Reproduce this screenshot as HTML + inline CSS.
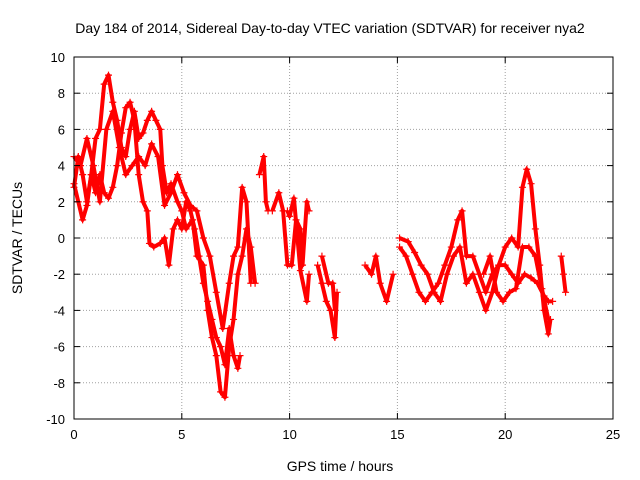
<!DOCTYPE html>
<html><head><meta charset="utf-8"><style>
body{margin:0;background:#fff}
svg{display:block;font-family:"Liberation Sans",sans-serif}
</style></head><body>
<svg id="c" width="640" height="480">
<text x="330" y="33" text-anchor="middle" font-size="14">Day 184 of 2014, Sidereal Day-to-day VTEC variation (SDTVAR) for receiver nya2</text>
<text x="340" y="471" text-anchor="middle" font-size="14">GPS time / hours</text>
<text transform="translate(22,238) rotate(-90)" text-anchor="middle" font-size="14">SDTVAR / TECUs</text>
<g id="grid"></g><g id="data"></g><g id="axes"></g>
</svg>
<script>
const xTicks=[0,5,10,15,20,25];
const yTicks=[-10,-8,-6,-4,-2,0,2,4,6,8,10];
const trackT=[
[0,0.2,0.4,0.6,0.8,1.0,1.2,1.4,1.6,1.8,2.0,2.2,2.4,2.6,2.8,3.0,3.2,3.4,3.6,3.8,4.0,4.1,4.3,4.5,4.8,5.0,5.2,5.5,5.7,6.0,6.2,6.4,6.6,6.8,7.0,7.2,7.4,7.6,7.8,8.0,8.2,8.4],
[0,0.2,0.4,0.6,0.8,1.0,1.2,1.4,1.6,1.8,2.0,2.2,2.4,2.6,2.8,3.0,3.2,3.4,3.5,3.7,4.0,4.2,4.4,4.6,4.8,5.0,5.2,5.4,5.6,5.8,6.0,6.2,6.4,6.6,6.8,7.0,7.2,7.4,7.6,7.7],
[0,0.3,0.6,0.9,1.2,1.5,1.8,2.1,2.4,2.7,3.0,3.3,3.6,3.9,4.2,4.5,4.8,5.1,5.4,5.7,6.0,6.3,6.6,6.9,7.2,7.4,7.6,7.8,8.0,8.2],
[8.6,8.8,8.9,9.0],
[9.2,9.5,9.7,9.9,10.1,10.3,10.5,10.6,10.8,10.9],
[9.9,10.0,10.2,10.5,10.8,10.9],
[11.3,11.5,11.7,11.9,12.1,12.2],
[11.5,11.8,12.0,12.1],
[13.5,13.8,14.0,14.2,14.5,14.8],
[15.1,15.4,15.7,16,16.3,16.6,16.9,17.2,17.5,17.8,18.0,18.2,18.5,18.8,19.1,19.4,19.7,20.0,20.3,20.6,20.8,21.0,21.2,21.4,21.6,21.8,22.0,22.1],
[15.1,15.5,15.8,16.1,16.4,16.7,17.0,17.3,17.6,17.9,18.2,18.5,18.8,19.1,19.4,19.7,20,20.3,20.6,20.9,21.2,21.5,21.8,22.0,22.2],
[19.0,19.3,19.6,19.9,20.2,20.5,20.8,21.1,21.4,21.7,22.0],
[22.6,22.7,22.8]
];
const trackV=[
[2.8,4.5,3.5,2,3.5,5.5,6,8.5,9,7.5,6.5,5,4.5,6,7,5.5,5.8,6.5,7.0,6.5,6.0,4.0,2.5,3,2,1.5,0.5,1,-1,-1.5,-4,-5.5,-6.5,-8.5,-8.8,-6,-4.5,-2,-1,0.5,-0.5,-2.5],
[3,2,1,1.8,3.5,2.5,3.5,2.5,2.2,2.8,4,5.8,7.2,7.5,6.5,3.5,2,1.5,-0.3,-0.5,-0.3,0,-1.5,0.5,1,0.5,2,1.5,0.5,-1,-2.5,-3.5,-4.5,-5.5,-6,-7,-5,-6.5,-7.2,-6.5],
[4.5,4,5.5,4,2,6,7,5,3.5,4,4.5,4,5.2,4.5,1.8,2.5,3.5,2.5,1.8,1.5,0,-1,-3,-5,-2.5,-1,-0.5,2.8,2,-2.5],
[3.5,4.5,2,1.5],
[1.5,2.5,1.5,-1.5,-1.5,1,0.5,-1.5,2,1.5],
[1.5,1.2,2.2,-1.8,-3.5,-2],
[-1.5,-2.5,-3.5,-4,-5.5,-3],
[-1,-2.5,-2.5,-4],
[-1.5,-2,-1,-2.5,-3.5,-2],
[-0.5,-1,-2,-3,-3.5,-3,-2.5,-1.5,-0.5,1,1.5,-1,-1,-2,-3,-2,-1.5,-0.5,0,-0.5,2.8,3.8,3,0.5,-1.5,-4,-5.3,-4.5],
[0,-0.2,-0.8,-1.5,-2,-3,-3.5,-2,-1,-0.5,-2.5,-2,-3,-4,-3,-1.5,-1.5,-2,-2.5,-2,-2.2,-2.5,-3.2,-3.5,-3.5],
[-2,-1,-3,-3.5,-3,-2.8,-0.5,-0.5,-1,-2.8,-4.5],
[-1,-2,-3]
];
const X0=74,X1=613,Y0=419,Y1=57;
const sx=t=>X0+(t-0)/(25-0)*(X1-X0);
const sy=v=>Y0-(v+10)/20*(Y0-Y1);
const NS="http://www.w3.org/2000/svg";
function mk(tag,attrs,parent){const e=document.createElementNS(NS,tag);for(const k in attrs)e.setAttribute(k,attrs[k]);parent.appendChild(e);return e;}
const grid=document.getElementById('grid'),axes=document.getElementById('axes'),data=document.getElementById('data');
xTicks.forEach(t=>{
 const x=sx(t);
 if(t>0&&t<25){const g=mk('line',{x1:x,x2:x,y1:Y1,y2:Y0,stroke:'#a0a0a0','stroke-dasharray':'1,2'},grid);
 
 }
 mk('line',{x1:x,x2:x,y1:Y0,y2:Y0-6,stroke:'#000'},axes);mk('line',{x1:x,x2:x,y1:Y1,y2:Y1+6,stroke:'#000'},axes);
 const l=mk('text',{x:x,y:Y0+20,'text-anchor':'middle','font-size':'13'},axes);l.textContent=t;
 
 
});
yTicks.forEach(v=>{
 const y=sy(v);
 if(v>-10&&v<10){const g=mk('line',{x1:X0,x2:X1,y1:y,y2:y,stroke:'#a0a0a0','stroke-dasharray':'1,2'},grid);
 
 }
 mk('line',{x1:X0,x2:X0+6,y1:y,y2:y,stroke:'#000'},axes);mk('line',{x1:X1,x2:X1-6,y1:y,y2:y,stroke:'#000'},axes);
 const l=mk('text',{x:X0-9,y:y+5,'text-anchor':'end','font-size':'13'},axes);l.textContent=v;
 
 
});
const box=mk('rect',{x:X0,y:Y1,width:X1-X0,height:Y0-Y1,fill:'none',stroke:'#000'},axes);


trackT.forEach((ts,i)=>{
 const vs=trackV[i];
 const pts=ts.map((t,j)=>sx(t)+','+sy(vs[j])).join(' ');
 const pl=mk('polyline',{points:pts,fill:'none',stroke:'#f00','stroke-width':'4','stroke-linejoin':'round'},data);
 
 
 ts.forEach((t,j)=>{
  const x=sx(t),y=sy(vs[j]);
  const p=mk('path',{d:`M${x-3.5},${y}h7M${x},${y-3.5}v7`,stroke:'#f00','stroke-width':'1.2'},data);
  
  
 });
});
</script>
</body></html>
